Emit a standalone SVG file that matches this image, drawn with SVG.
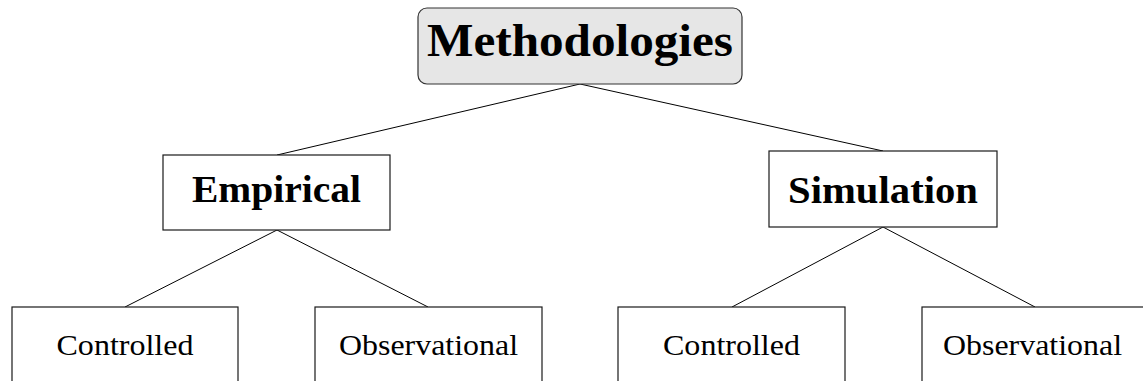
<svg xmlns="http://www.w3.org/2000/svg" width="1143" height="381" viewBox="0 0 1143 381">
<style>
.box{fill:#ffffff;stroke:#1a1a1a;stroke-width:1.2}
.root{fill:#e6e6e6;stroke:#333333;stroke-width:1.2}
.conn{stroke:#000000;stroke-width:1;fill:none}
.t{font-family:"Liberation Serif","Times New Roman",serif;text-anchor:middle;fill:#000000}
.b{font-weight:bold}
</style>
<rect width="1143" height="381" fill="#ffffff"/>
<g id="connectors">
<line class="conn" x1="580" y1="84" x2="277" y2="155"/>
<line class="conn" x1="580" y1="84" x2="883" y2="151"/>
<line class="conn" x1="277" y1="230" x2="125" y2="307"/>
<line class="conn" x1="277" y1="230" x2="428" y2="307"/>
<line class="conn" x1="883" y1="227" x2="732" y2="307"/>
<line class="conn" x1="883" y1="227" x2="1035" y2="307"/>
</g>
<g id="methodologies">
<rect class="root" x="418" y="8" width="324" height="76" rx="9"/>
<text class="t b" x="580" y="56" font-size="46" textLength="306" lengthAdjust="spacingAndGlyphs">Methodologies</text>
</g>
<g id="empirical">
<rect class="box" x="163" y="155" width="227" height="75"/>
<text class="t b" x="276.5" y="202" font-size="37" textLength="169" lengthAdjust="spacingAndGlyphs">Empirical</text>
</g>
<g id="simulation">
<rect class="box" x="769" y="151" width="228" height="76"/>
<text class="t b" x="883" y="203" font-size="37" textLength="190" lengthAdjust="spacingAndGlyphs">Simulation</text>
</g>
<g id="empirical-controlled">
<rect class="box" x="12" y="307" width="226" height="90"/>
<text class="t" x="125" y="355" font-size="29" textLength="137" lengthAdjust="spacingAndGlyphs">Controlled</text>
</g>
<g id="empirical-observational">
<rect class="box" x="315" y="307" width="227" height="90"/>
<text class="t" x="428.5" y="355" font-size="29" textLength="179" lengthAdjust="spacingAndGlyphs">Observational</text>
</g>
<g id="simulation-controlled">
<rect class="box" x="618" y="307" width="227" height="90"/>
<text class="t" x="731.5" y="355" font-size="29" textLength="137" lengthAdjust="spacingAndGlyphs">Controlled</text>
</g>
<g id="simulation-observational">
<rect class="box" x="922" y="307" width="227" height="90"/>
<text class="t" x="1032.5" y="355" font-size="29" textLength="179" lengthAdjust="spacingAndGlyphs">Observational</text>
</g>
</svg>
